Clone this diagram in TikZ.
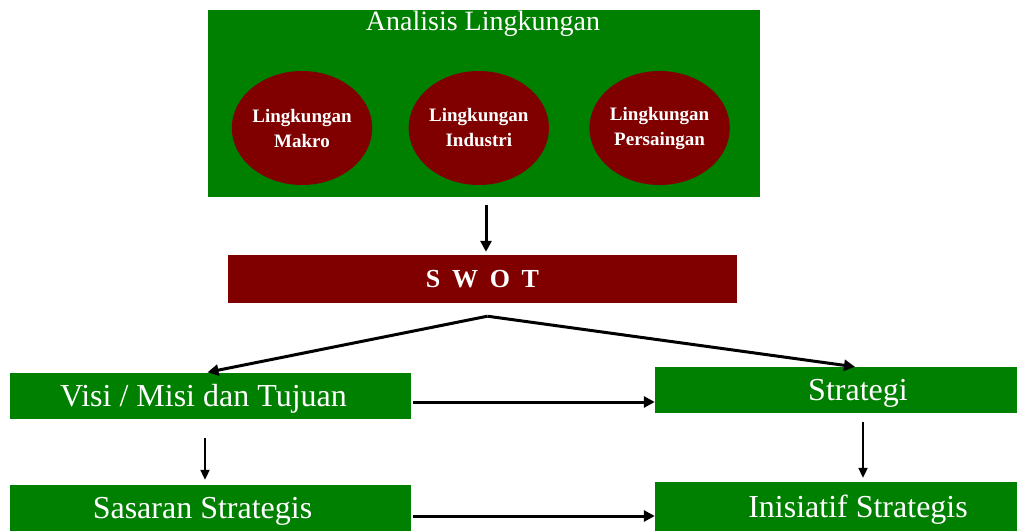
\documentclass[tikz,border=0pt]{standalone}
\usepackage{fontspec}
\setmainfont{Liberation Serif}
\usetikzlibrary{arrows.meta,positioning,calc,shapes.geometric}
\definecolor{envgreen}{RGB}{0,128,0}
\definecolor{swotred}{RGB}{128,0,0}

\begin{document}
\begin{tikzpicture}[
  x=1pt, y=-1pt,
  node distance=36pt and 36pt,
  every node/.style={text=white, inner sep=0pt},
  panel/.style={fill=envgreen, minimum width=552pt, minimum height=187pt},
  factor/.style={ellipse, fill=swotred, minimum width=140pt, minimum height=114pt, align=center, font=\fontsize{19}{25}\selectfont\bfseries},
  bar/.style={fill=swotred, minimum width=509pt, minimum height=48pt, font=\fontsize{26}{30}\selectfont\bfseries},
  stage/.style={fill=envgreen, minimum height=46pt, text height=21pt, text depth=0pt, font=\fontsize{32}{36}\selectfont},
  arrow/.style={-{Triangle[length=11pt, width=11pt]}, line width=3pt},
  thinarrow/.style={-{Triangle[length=10pt, width=9pt]}, line width=2pt}
]
\useasboundingbox (0,0) rectangle (1017,531);
\node[panel] (env) at (484,103.5) {};
\node[font=\fontsize{28}{30}\selectfont] (envtitle) at (483,24) {Analisis Lingkungan};
\node[factor] (makro) at (302,128) {Lingkungan\\Makro};
\node[factor, right=36pt of makro] (industri) {Lingkungan\\Industri};
\node[factor, right=40pt of industri] (persaingan) {Lingkungan\\Persaingan};
\node[bar] (swot) at (482.5,279) {S\hspace{0.45em}W\hspace{0.45em}O\hspace{0.45em}T};
\node[stage, minimum width=401pt] (visi) at (210.5,395.5) {Visi / Misi dan Tujuan\hspace*{14pt}};
\node[stage, minimum width=406pt] (strategi) at (858,390) {Strategi};
\node[stage, minimum width=401pt] (sasaran) at (210.5,508) {Sasaran Strategis\hspace*{16pt}};
\node[stage, minimum width=406pt, minimum height=49pt] (inisiatif) at (858,506.5) {Inisiatif Strategis};
\coordinate (split) at ([xshift=5pt,yshift=-13pt]swot.south);
% arrows
\draw[arrow] ([xshift=2pt,yshift=-8pt]env.south) -- ([xshift=3.5pt,yshift=3pt]swot.north);
\draw[arrow] (split) -- ([xshift=-3pt]visi.north);
\draw[arrow] (split) -- ([xshift=-3pt]strategi.north);
\draw[arrow] ($(visi.east)+(2,6.5)$) -- ($(visi.east -| strategi.west)+(0,6.5)$);
\draw[arrow] ($(sasaran.east)+(2,8)$) -- ($(sasaran.east -| inisiatif.west)+(0,8)$);
\draw[thinarrow] ($(visi.south)+(-5.5,19)$) -- ($(sasaran.north)+(-5.5,-5)$);
\draw[thinarrow] ($(strategi.south)+(5,9)$) -- ($(inisiatif.north)+(5,-4)$);
\end{tikzpicture}
\end{document}
